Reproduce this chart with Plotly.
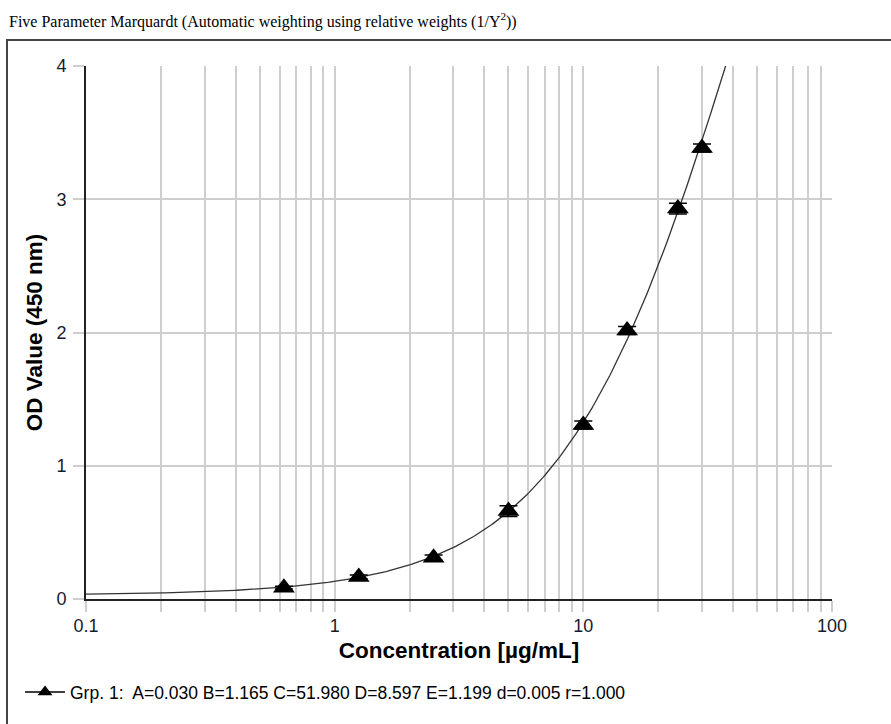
import numpy as np
import plotly.graph_objects as go

# Standards: concentration (µg/mL), mean OD at 450 nm, and SD
conc = [0.625, 1.25, 2.5, 5, 10, 15, 24, 30]
od_mean = [0.085, 0.165, 0.31, 0.66, 1.305, 2.015, 2.93, 3.385]
od_sd = [0.01, 0.015, 0.02, 0.04, 0.03, 0.03, 0.04, 0.03]

# Five-parameter logistic fit parameters
A, B, C, D, E = 0.030, 1.165, 51.980, 8.597, 1.199
fit_label = "Grp. 1:  A=0.030 B=1.165 C=51.980 D=8.597 E=1.199 d=0.005 r=1.000"

x_ticks = [0.1, 1, 10, 100]
x_tick_text = ["0.1", "1", "10", "100"]
y_ticks = [0, 1, 2, 3, 4]

minor_vals = [m * 10.0 ** p for p in (-1, 0, 1) for m in range(2, 10)]

xs = np.logspace(-1, np.log10(40), 400)
ys = D + (A - D) / (1 + (xs / C) ** B) ** E

fig = go.Figure()

fig.add_trace(go.Scatter(
    x=xs, y=ys, mode="lines",
    line=dict(color="#333333", width=1.3),
    showlegend=False, hoverinfo="skip",
))

fig.add_trace(go.Scatter(
    x=conc, y=od_mean, mode="markers",
    marker=dict(symbol="triangle-up", size=19, color="black"),
    error_y=dict(type="data", array=od_sd, visible=True,
                 color="black", thickness=1.5, width=9),
    showlegend=False, cliponaxis=False,
))

# legend entry: line with triangle marker
fig.add_trace(go.Scatter(
    x=[None], y=[None], mode="lines+markers", name=fit_label,
    line=dict(color="black", width=1.5),
    marker=dict(symbol="triangle-up", size=13, color="black"),
))

L, R, T, Bm = 86, 59, 66, 125
W, H = 891, 724
pw, ph = W - L - R, H - T - Bm

def px_x(p):
    return (p - L) / pw

def px_y(p):
    return (H - Bm - p) / ph

grid_col = "#cfcfcf"
tick_col = "#1a1a2e"

fig.update_layout(
    width=W, height=H,
    margin=dict(l=L, r=R, t=T, b=Bm),
    paper_bgcolor="white", plot_bgcolor="white",
    font=dict(family="Liberation Sans, Arial, sans-serif", color="#222222"),
    showlegend=True,
    legend=dict(
        x=px_x(20), y=px_y(692), xanchor="left", yanchor="middle",
        font=dict(size=17.5, color="black",
                  family="Liberation Sans, Arial, sans-serif"),
        bgcolor="rgba(0,0,0,0)", itemwidth=40,
    ),
    xaxis=dict(
        type="log", range=[-1, 2],
        tickvals=x_ticks, ticktext=x_tick_text,
        tickfont=dict(size=18, color=tick_col),
        ticks="outside", ticklen=11, tickcolor=grid_col, tickwidth=1.5,
        ticklabelstandoff=-2,
        showgrid=True, gridcolor=grid_col, gridwidth=1.5,
        minor=dict(tickvals=minor_vals, showgrid=True, gridcolor=grid_col,
                   gridwidth=1.5, ticks="outside", ticklen=11,
                   tickcolor=grid_col, tickwidth=1.5),
        showline=True, linecolor="#222222", linewidth=2,
        zeroline=False,
        title=dict(text="<b>Concentration [µg/mL]</b>",
                   font=dict(size=22.5, color="black"), standoff=8),
    ),
    yaxis=dict(
        range=[0, 4], tickvals=y_ticks,
        tickfont=dict(size=18, color=tick_col),
        ticks="outside", ticklen=11, tickcolor=grid_col, tickwidth=1.5,
        ticklabelstandoff=3,
        showgrid=True, gridcolor=grid_col, gridwidth=1.5,
        showline=True, linecolor="#222222", linewidth=2,
        zeroline=False,
        title=dict(text="<b>OD Value (450 nm)</b>",
                   font=dict(size=22.5, color="black"), standoff=8),
    ),
    shapes=[dict(
        type="rect", xref="paper", yref="paper",
        x0=px_x(7), x1=px_x(W + 20), y0=px_y(H + 20), y1=px_y(40),
        line=dict(color="#444444", width=2), layer="below",
    )],
    annotations=[dict(
        text="Five Parameter Marquardt (Automatic weighting using relative weights (1/Y<sup>2</sup>))",
        xref="paper", yref="paper", x=px_x(7), y=px_y(33),
        xanchor="left", yanchor="bottom", showarrow=False,
        font=dict(family="Liberation Serif, Times New Roman, serif",
                  size=16, color="black"),
    )],
)

fig.write_html("out.html")
